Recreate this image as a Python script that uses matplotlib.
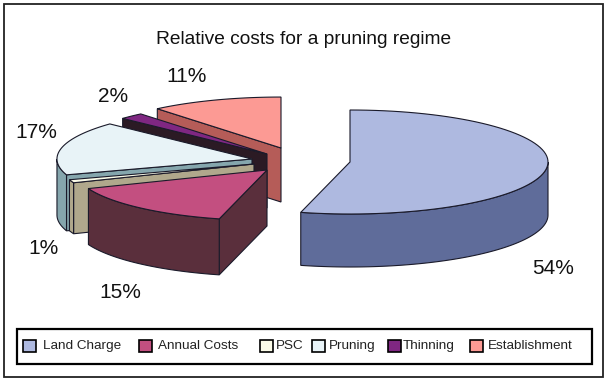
import numpy as np
import matplotlib
matplotlib.use("Agg")
import matplotlib.pyplot as plt
from matplotlib.patches import Polygon, Rectangle

plt.rcParams['font.family'] = ['Liberation Sans', 'DejaVu Sans']

# values, percent
categories = ["Land Charge", "Annual Costs", "PSC", "Pruning", "Thinning", "Establishment"]
values = [54, 15, 1, 17, 2, 11]
top_colors = ["#aeb9e0", "#c34f80", "#fbfbe8", "#e8f3f7", "#7f2782", "#fc9a94"]
side_colors = ["#5f6c9a", "#5a2f3c", "#b0a88c", "#85a6ad", "#2b1a24", "#b55c58"]

# layout, in pixels of the 607x381 picture
apex = [(350, 162), (267, 170), (254, 164), (252, 159), (267, 154), (281, 148)]
radius_scale = [1.0, 0.97, 0.98, 0.985, 1.0, 0.98]
depth = [53, 56, 51, 56, 54, 54]
label_pos = [(553, 268), (120, 292), (43, 249), (36, 133), (113, 96), (187, 76)]
legend_box_x = [23, 139, 260, 312, 388, 470]
legend_text_x = [43, 158, 276, 329, 403, 488]
RX, RY = 198, 52
EDGE = "#1a1a2a"


def rim(i, a0, a1):
    # angles are degrees clockwise from 12 o'clock, y axis points down
    cx, cy = apex[i]
    t = np.radians(np.linspace(a0, a1, 80))
    return cx + radius_scale[i] * RX * np.sin(t), cy - radius_scale[i] * RY * np.cos(t)


def draw_slice(ax, i, a0, a1):
    cx, cy = apex[i]
    d = depth[i]
    x, y = rim(i, a0, a1)
    lw = 0.8
    # flat side along the start edge of the slice, hidden for the first one
    if i > 0:
        side = [(cx, cy), (x[0], y[0]), (x[0], y[0] + d), (cx, cy + d)]
        ax.add_patch(Polygon(side, fc=side_colors[i], ec=EDGE, lw=lw))
    # curved outer wall, only the part that faces the viewer
    lo, hi = max(a0, 90), min(a1, 270)
    if hi > lo:
        wx, wy = rim(i, lo, hi)
        wall = np.vstack([np.c_[wx, wy], np.c_[wx[::-1], wy[::-1] + d]])
        ax.add_patch(Polygon(wall, fc=side_colors[i], ec=EDGE, lw=lw))
    top = np.vstack([[cx, cy], np.c_[x, y]])
    ax.add_patch(Polygon(top, fc=top_colors[i], ec=EDGE, lw=lw))


fig = plt.figure(figsize=(6.07, 3.81), dpi=100)
ax = fig.add_axes([0, 0, 1, 1])
ax.set_xlim(0, 607)
ax.set_ylim(381, 0)
ax.axis("off")

# outer frame
ax.add_patch(Rectangle((4, 4), 599, 373, fc="white", ec="#222222", lw=1.3))
ax.text(304, 39, "Relative costs for a pruning regime", ha="center", va="center", fontsize=13.8, color="#111111")

ends = np.cumsum(values) * 3.6
starts = ends - np.array(values) * 3.6

# back to front so nearer slices cover the ones behind them
for i in [5, 4, 3, 2, 1, 0]:
    draw_slice(ax, i, starts[i], ends[i])

for v, (lx, ly) in zip(values, label_pos):
    ax.text(lx, ly, f"{v}%", ha="center", va="center", fontsize=15, color="#111111")

# legend
ax.add_patch(Rectangle((16.5, 329), 575.5, 35, fc="white", ec="black", lw=1.6))
for name, col, bx, tx in zip(categories, top_colors, legend_box_x, legend_text_x):
    ax.add_patch(Rectangle((bx, 340), 12.5, 12, fc=col, ec="black", lw=1.2))
    ax.text(tx, 346, name, ha="left", va="center", fontsize=9.7, color="#222222")

fig.savefig("out.png", dpi=100)
